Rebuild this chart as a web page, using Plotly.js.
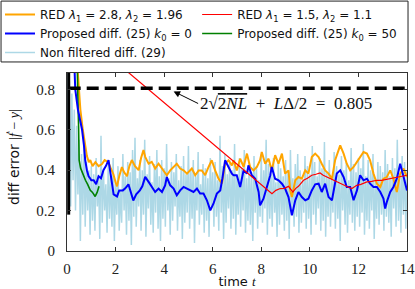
<!DOCTYPE html>
<html><head><meta charset="utf-8">
<script src="https://cdn.plot.ly/plotly-3.0.1.min.js"></script>
<style>html,body{margin:0;padding:0;background:#fff}#c{width:415px;height:289px}</style>
</head><body><div id="c"></div>
<script>
// Non filtered diff. (29): sampled every 0.05 s from t = 0
const nfStep = 0.05;
const nfY = [
0.88,0.30,0.84,0.22,0.78,0.35,0.70,0.20,0.62,0.28,0.55,0.05,0.48,0.18,0.52,0.12,0.44,0.20,0.40,0.08,
0.42,0.15,0.38,0.10,0.46,0.22,0.36,0.06,0.57,0.14,0.40,0.20,0.33,0.09,0.44,0.16,0.38,0.12,0.46,0.05,
0.35,0.18,0.42,0.10,0.30,0.14,0.48,0.20,0.37,0.08,0.44,0.15,0.39,0.03,0.50,0.17,0.56,0.12,0.36,0.22,
0.45,0.10,0.40,0.18,0.55,0.07,0.38,0.21,0.47,0.13,0.34,0.09,0.43,0.19,0.50,0.11,0.37,0.05,0.45,0.16,
0.41,0.12,0.53,0.20,0.36,0.08,0.44,0.15,0.39,0.22,0.48,0.10,0.35,0.17,0.42,0.06,0.47,0.14,0.38,0.19,
0.52,0.11,0.40,0.16,0.45,0.04,0.37,0.20,0.49,0.13,0.33,0.18,0.43,0.09,0.41,0.15,0.36,0.07,0.46,0.21,
0.39,0.12,0.44,0.17,0.35,0.10,0.57,0.19,0.42,0.06,0.48,0.14,0.38,0.21,0.45,0.11,0.40,0.16,0.53,0.08,
0.37,0.18,0.46,0.12,0.41,0.20,0.50,0.09,0.36,0.15,0.44,0.13,0.39,0.05,0.47,0.19,0.42,0.11,0.35,0.17,
0.48,0.14,0.40,0.21,0.55,0.08,0.43,0.16,0.38,0.12,0.46,0.19,0.34,0.07,0.44,0.13,0.41,0.18,0.37,0.10,
0.45,0.15,0.39,0.06,0.50,0.20,0.36,0.12,0.43,0.17,0.48,0.09,0.40,0.14,0.35,0.19,0.47,0.11,0.42,0.16,
0.38,0.08,0.52,0.18,0.44,0.13,0.37,0.21,0.46,0.10,0.41,0.15,0.54,0.07,0.39,0.17,0.45,0.12,0.36,0.19,
0.49,0.11,0.42,0.16,0.38,0.05,0.47,0.20,0.40,0.13,0.44,0.09,0.35,0.18,0.51,0.14,0.43,0.10,0.39,0.17,
0.46,0.12,0.41,0.19,0.53,0.08,0.37,0.15,0.45,0.11,0.40,0.20,0.48,0.06,0.36,0.16,0.44,0.13,0.42,0.18,
0.39,0.10,0.50,0.17,0.43,0.14,0.37,0.07,0.46,0.21,0.41,0.12,0.55,0.15,0.38,0.09,0.47,0.18,0.44,0.11,
0.40];
const nfT = nfY.map((_, i) => +(i * nfStep).toFixed(2));

// RED lambda1 = 2.8, lambda2 = 1.96
const redAT = [0.38,0.45,0.55,0.65,0.75,0.82,0.90,0.96,1.05,1.17,1.30,1.44,1.55,1.70,1.80,1.91,2.00,2.06,2.15,2.26,2.35,2.47,2.57,2.67,2.80,2.95,3.05,3.15,3.22,
3.36,3.49,3.63,3.77,3.97,4.11,4.25,4.39,4.52,4.66,4.80,4.94,5.14,5.28,5.42,5.55,5.69,5.83,5.96,6.10,6.24,6.38,6.51,6.65,6.79,
6.86,6.99,7.13,7.27,7.41,7.54,7.68,7.82,7.95,8.02,8.16,8.30,8.43,8.57,8.71,8.85,8.98,9.12,9.19,9.26,9.40,9.53,9.67,9.81,9.94,10.08,
10.22,10.36,10.49,10.63,10.77,10.91,11.04,11.18,11.25,11.39,11.52,11.66,11.80,11.94,12.07,12.21,12.35,12.48,12.62,12.76,12.90,13.03,13.17,13.31,13.44,13.58,13.72,13.86,14.0];
const redAY = [1.00,0.85,0.70,0.60,0.52,0.47,0.44,0.45,0.42,0.44,0.42,0.43,0.45,0.44,0.41,0.38,0.34,0.32,0.37,0.415,0.39,0.37,0.42,0.45,0.42,0.40,0.46,0.50,0.466,
0.432,0.441,0.408,0.432,0.399,0.375,0.399,0.416,0.432,0.408,0.399,0.383,0.408,0.375,0.399,0.399,0.375,0.416,0.449,0.399,0.358,0.334,0.432,0.449,0.424,
0.449,0.399,0.457,0.416,0.482,0.416,0.399,0.416,0.449,0.490,0.432,0.457,0.399,0.474,0.432,0.482,0.383,0.399,0.300,0.267,0.350,0.366,0.358,0.399,0.383,0.465,
0.482,0.465,0.432,0.399,0.383,0.358,0.449,0.498,0.523,0.482,0.432,0.399,0.416,0.441,0.465,0.490,0.482,0.449,0.383,0.333,0.317,0.358,0.366,0.399,0.358,0.292,0.383,0.408,0.366];

// RED lambda1 = 1.5, lambda2 = 1.1
const redBT = [0,8.44,8.60,8.78,8.95,9.12,9.30,9.42,9.53,9.65,9.74,9.90,10.08,10.25,10.42,10.55,10.70,10.85,10.97,11.20,11.38,11.55,11.73,11.85,11.93,12.10,12.35,12.55,12.76,12.95,13.17,13.40,13.58,13.80,14.0];
const redBY = [1.14,0.284,0.300,0.309,0.310,0.320,0.292,0.310,0.320,0.335,0.350,0.360,0.375,0.380,0.386,0.375,0.366,0.360,0.350,0.335,0.325,0.318,0.309,0.318,0.325,0.330,0.342,0.345,0.350,0.350,0.355,0.360,0.363,0.368,0.375];

// Proposed diff. (25) k0 = 0
const propAT = [0.28,0.34,0.45,0.55,0.62,0.70,0.75,0.82,0.89,0.95,1.00,1.10,1.20,1.30,1.40,1.50,1.60,1.71,1.80,1.92,2.06,2.15,2.30,2.40,2.53,2.62,2.73,2.85,3.00,3.10,3.22,
3.36,3.49,3.63,3.77,3.91,4.04,4.11,4.25,4.39,4.52,4.66,4.80,4.94,5.07,5.21,5.35,5.48,5.62,5.76,5.90,6.03,6.17,6.31,6.40,6.51,6.65,6.79,
6.86,6.99,7.13,7.27,7.41,7.47,7.61,7.75,7.89,7.95,8.09,8.23,8.37,8.43,8.57,8.71,8.85,8.98,9.12,9.26,9.40,9.53,9.67,9.81,9.94,10.08,10.22,
10.36,10.49,10.63,10.77,10.91,10.97,11.11,11.25,11.39,11.52,11.66,11.80,11.94,12.07,12.21,12.35,12.48,12.62,12.76,12.90,13.03,13.10,13.17,13.31,13.44,13.58,13.72,13.86,14.0];
const propAY = [1.00,0.80,0.70,0.64,0.60,0.52,0.45,0.40,0.37,0.36,0.35,0.35,0.33,0.37,0.36,0.40,0.42,0.45,0.37,0.28,0.27,0.30,0.30,0.31,0.33,0.29,0.25,0.28,0.30,0.32,0.367,
0.342,0.317,0.292,0.309,0.292,0.325,0.366,0.325,0.309,0.276,0.300,0.317,0.309,0.300,0.292,0.309,0.284,0.284,0.251,0.201,0.234,0.284,0.300,0.360,0.449,0.416,0.383,
0.375,0.375,0.317,0.399,0.383,0.424,0.375,0.358,0.292,0.226,0.259,0.317,0.375,0.416,0.358,0.350,0.333,0.309,0.267,0.177,0.251,0.292,0.267,0.251,0.259,0.300,0.330,
0.333,0.292,0.333,0.267,0.251,0.292,0.383,0.399,0.366,0.317,0.317,0.251,0.300,0.375,0.350,0.358,0.333,0.317,0.317,0.292,0.259,0.210,0.243,0.292,0.317,0.358,0.432,0.366,0.300];

// Proposed diff. (25) k0 = 50
const propBT = [0.38,0.40,0.44,0.48,0.50,0.56,0.62,0.68,0.76,0.85,0.96,1.05,1.16,1.24,1.32];
const propBY = [1.20,1.00,0.80,0.60,0.45,0.41,0.39,0.37,0.35,0.33,0.30,0.29,0.27,0.29,0.32];

// Bound 2*sqrt(2NL) + L*Delta/2
const boundT = [0.07,14];
const boundY = [0.805,0.805];
const boundStartT = [0.07,0.07];
const boundStartY = [0.18,0.95];

const serif = 'Liberation Serif, DejaVu Serif, serif';
const sans = 'DejaVu Sans, sans-serif';

const traces = [
  {x:nfT, y:nfY, name:'Non filtered diff. (29)', legend:'legend', legendrank:3, mode:'lines', line:{color:'#ADD8E6', width:1.5}},
  {x:redAT, y:redAY, name:'RED <i>λ</i><sub>1</sub> = 2.8, <i>λ</i><sub>2</sub> = 1.96', legend:'legend', legendrank:1, mode:'lines', line:{color:'#FFA500', width:2}},
  {x:propBT, y:propBY, name:'Proposed diff. (25) <i>k</i><sub>0</sub> = 50', legend:'legend2', legendrank:2, mode:'lines', line:{color:'#008000', width:1.6}},
  {x:propAT, y:propAY, name:'Proposed diff. (25) <i>k</i><sub>0</sub> = 0', legend:'legend', legendrank:2, mode:'lines', line:{color:'#0000FF', width:2}},
  {x:redBT, y:redBY, name:'RED <i>λ</i><sub>1</sub> = 1.5, <i>λ</i><sub>2</sub> = 1.1', legend:'legend2', legendrank:1, mode:'lines', line:{color:'#FF0000', width:1.2}},
  {x:boundT, y:boundY, showlegend:false, mode:'lines', line:{color:'#000', width:3.5, dash:'12px,6px'}},
  {x:boundStartT, y:boundStartY, showlegend:false, mode:'lines', line:{color:'#000', width:3}}
];

const legendCommon = {orientation:'v', xref:'container', yref:'container', xanchor:'left', yanchor:'top',
  borderwidth:0, bgcolor:'rgba(0,0,0,0)', font:{family:sans, size:12, color:'#111'}, tracegroupgap:0, itemwidth:30};

const layout = {
  width:415, height:289,
  margin:{l:67, r:8, t:73, b:38, autoexpand:false},
  paper_bgcolor:'#fff', plot_bgcolor:'#fff',
  showlegend:true,
  legend:Object.assign({}, legendCommon, {x:0.0, y:1.007}),
  legend2:Object.assign({}, legendCommon, {x:0.475, y:1.007}),
  shapes:[{type:'rect', xref:'paper', yref:'paper', x0:-0.194, x1:1.003, y0:1.062, y1:1.404,
           line:{color:'#222', width:1}, fillcolor:'rgba(0,0,0,0)', layer:'above'}],
  xaxis:{range:[0,14], tickvals:[0,2,4,6,8,10,12,14], ticks:'inside', ticklen:4, tickcolor:'#333',
         showline:true, linecolor:'#333', linewidth:1, mirror:'ticks', showgrid:false, zeroline:false,
         ticklabelstandoff:4,
         tickfont:{family:serif, size:15, color:'#222'},
         title:{text:'time <i style="font-family:Liberation Serif">t</i>', font:{family:sans, size:13, color:'#111'}, standoff:0}},
  yaxis:{range:[0,0.881], tickvals:[0,0.2,0.4,0.6,0.8], ticktext:['0','0.2','0.4','0.6','0.8'], ticks:'inside', ticklen:4, tickcolor:'#333',
         showline:true, linecolor:'#333', linewidth:1, mirror:'ticks', showgrid:false, zeroline:false,
         ticklabelstandoff:8,
         tickfont:{family:serif, size:15, color:'#222'}},
  annotations:[{
    x:4.39, y:0.79, xref:'x', yref:'y', axref:'x', ayref:'y', ax:5.4, ay:0.73,
    text:'2√<span style="text-decoration:overline">2<i>NL</i></span>&nbsp;&nbsp;+&nbsp;&nbsp;<i>L</i>Δ/2&nbsp;&nbsp;=&nbsp;&nbsp;0.805',
    xanchor:'left', showarrow:true, arrowhead:2, arrowsize:1.3, arrowwidth:1, arrowcolor:'#000',
    font:{family:serif, size:17, color:'#111'}
  },{
    x:-0.156, y:0.528, xref:'paper', yref:'paper', showarrow:false, textangle:-90,
    xanchor:'center', yanchor:'middle',
    text:'diff error <span style="font-family:Liberation Serif">|<i>ḟ</i> − <i>y</i>|</span>',
    font:{family:sans, size:14, color:'#111'}
  }]
};

Plotly.newPlot('c', traces, layout, {staticPlot:true, displayModeBar:false});
</script></body></html>
